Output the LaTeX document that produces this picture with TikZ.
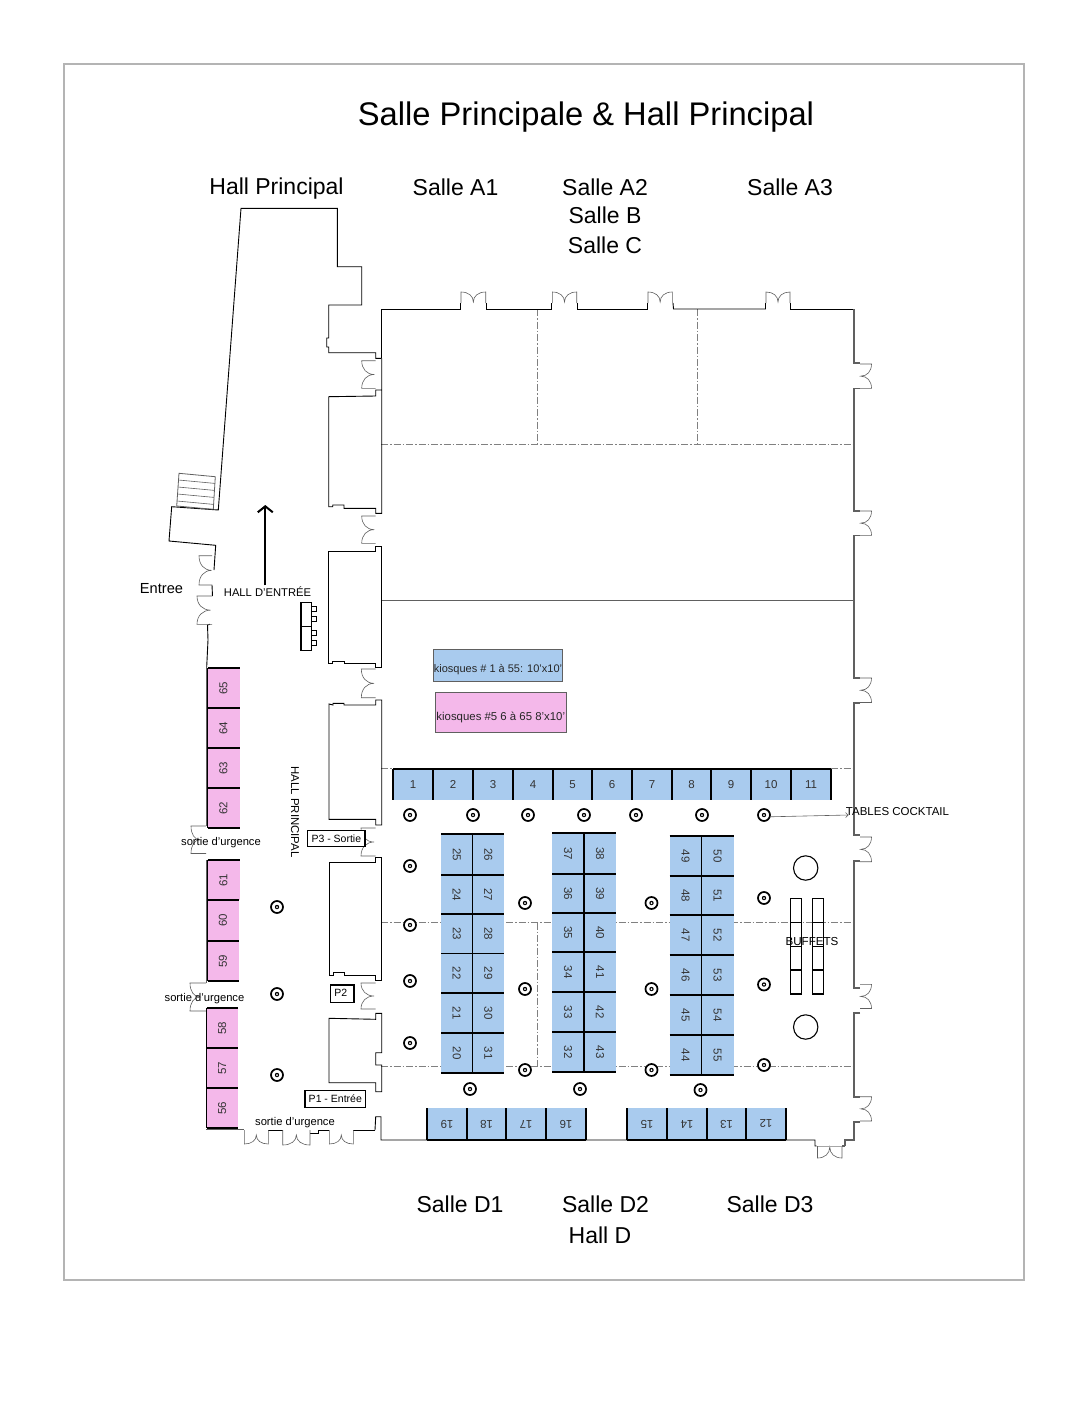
\documentclass[tikz,border=0pt]{standalone}
\usepackage{graphicx}
\usepackage{fontspec}
\setmainfont{Liberation Sans}
\usetikzlibrary{arrows.meta}
\definecolor{kblue}{HTML}{A9CBEE}
\definecolor{kpink}{HTML}{F4B8EA}
\definecolor{wallgrey}{HTML}{606060}
\definecolor{frameg}{HTML}{B4B4B4}
\definecolor{dashg}{HTML}{808080}
\newcommand{\fsz}[1]{\fontsize{#1}{#1}\selectfont}
\tikzset{
  wall/.style={draw=black,line width=0.9pt,line join=miter},
  rwall/.style={draw=wallgrey,line width=1.3pt},
  doorline/.style={draw=wallgrey,line width=0.6pt},
  partition/.style={draw=dashg,line width=0.7pt,dash pattern=on 7pt off 2pt on 1.5pt off 2pt},
  kioskbox/.style={inner sep=0pt,outer sep=0pt,font=\fsz{11.5},text=black!80},
  sep/.style={draw=black,line width=1.5pt,line cap=butt},
  salle/.style={font=\fsz{23},inner sep=0pt},
  small/.style={font=\fsz{11.2},inner sep=0pt},
  tag/.style={draw=black,line width=1.4pt,fill=white,inner sep=0pt,outer sep=0pt,font=\fsz{10.5}},
  pillar/.style={circle,draw=black,line width=1.7pt,fill=white,minimum size=12pt,inner sep=0pt},
  furn/.style={draw=black,line width=1.1pt},
}
% door with the opening along x : x1, x2, wall y, tip y, centre y
\newcommand{\doorH}[5]{%
  \pgfmathsetmacro{\xm}{(#1+#2)/2}%
  \pgfmathsetmacro{\ca}{#1+0.6*(\xm-#1)}%
  \pgfmathsetmacro{\cb}{#2-0.6*(#2-\xm)}%
  \pgfmathsetmacro{\cy}{#4+0.4*(#5-#4)}%
  \draw[doorline] (#1,#3)--(#1,#4) .. controls (\ca,#4) and (\xm,\cy) .. (\xm,#5)
    .. controls (\xm,\cy) and (\cb,#4) .. (#2,#4)--(#2,#3);}
% door with the opening along y : y1, y2, wall x, tip x, centre x
\newcommand{\doorV}[5]{%
  \pgfmathsetmacro{\ym}{(#1+#2)/2}%
  \pgfmathsetmacro{\ca}{#1+0.6*(\ym-#1)}%
  \pgfmathsetmacro{\cb}{#2-0.6*(#2-\ym)}%
  \pgfmathsetmacro{\cx}{#4+0.4*(#5-#4)}%
  \draw[doorline] (#3,#1)--(#4,#1) .. controls (#4,\ca) and (\cx,\ym) .. (#5,\ym)
    .. controls (\cx,\ym) and (#4,\cb) .. (#4,#2)--(#3,#2);}
% kiosk node: name, x1, y1, x2, y2, colour, text
\newcommand{\kiosk}[7]{%
  \pgfmathsetmacro{\kw}{#4-#2}\pgfmathsetmacro{\kh}{#5-#3}%
  \node[kioskbox,fill=#6,minimum width=\kw pt,minimum height=\kh pt] (#1) at ({(#2+#4)/2},{(#3+#5)/2}) {#7};}
\begin{document}
\begin{tikzpicture}[x=1pt,y=-1pt]
\useasboundingbox (0,0) rectangle (1088,1408);
\fill[white] (0,0) rectangle (1088,1408);
\draw[frameg,line width=2pt] (64,64) rectangle (1024,1280);

% partitions
\draw[partition] (381,444.5)--(854,444.5);
\draw[partition] (537.7,309)--(537.7,444.5);
\draw[partition] (697.3,309)--(697.3,444.5);
\draw[draw=wallgrey,line width=0.7pt] (381,600)--(854,600);
\draw[partition] (381,768.5)--(854,768.5);
\draw[partition] (381,922.5)--(854,922.5);
\draw[partition] (381,1066)--(854,1066);
\draw[partition] (537.7,922.5)--(537.7,1066);

% room walls
\draw[wall] (381.7,358.3)--(381.7,309)--(460,309)--(460,303);
\draw[wall] (486,303)--(486,309)--(551.7,309)--(551.7,303);
\draw[wall] (577,303)--(577,309)--(647.7,309)--(647.7,303);
\draw[wall] (673,303)--(673.5,309)--(765.5,309)--(765.5,303);
\draw[wall] (790.5,303)--(790.5,309)--(854,309);
\draw[rwall] (854,309)--(854,363)--(860,363);
\draw[rwall] (860,388.5)--(854,388.5)--(854,511)--(860,511);
\draw[rwall] (860,535.5)--(854,535.5)--(854,678)--(860,678);
\draw[rwall] (860,703)--(854,703)--(854,835)--(860,835);
\draw[rwall] (860,861)--(854,861)--(854,988)--(860,988);
\draw[rwall] (860,1013)--(854,1013)--(854,1097)--(860,1097);
\draw[rwall] (860,1122)--(854,1122)--(854,1140)--(845,1140)--(845,1146);
\draw[wall] (816.5,1146)--(815,1146)--(815,1140)--(381,1140)--(381,1116.7)--(375.7,1116.7)--(375,1130);

% top doors
\doorH{461}{485.7}{303}{292}{302}
\doorH{552.3}{576.7}{303}{292}{302}
\doorH{648}{672.3}{303}{292}{302}
\doorH{766}{790}{303}{292}{302}
% right doors
\doorV{364}{388.3}{860}{871.5}{860.7}
\doorV{511}{535.3}{860}{871.5}{860.7}
\doorV{678}{702.5}{860}{871.5}{860.7}
\doorV{837}{861.7}{860}{871.5}{860.7}
\doorV{984.3}{1008.5}{860}{871.5}{860.7}
\doorV{1096.7}{1121}{860}{871.5}{860.7}
% bottom right door
\doorH{817.5}{842}{1146}{1158}{1147}
\draw[draw=black!35,line width=0.6pt] (817.5,1146)--(842,1146);
\draw[rwall] (845,1146)--(842,1146);

% hall outer wall
\draw[wall] (381.7,358.3)--(375.7,358.3)--(375.7,352.7)--(328.7,352.7)--(328.7,347)--(326.7,347)--(326.7,338)--(328.7,338)--(328.7,305)--(361.7,305)--(361.7,266.7)--(337.3,266.7)--(337.3,208.3)--(241,208.3)--(218.3,510)--(171.7,506.7)--(169,541)--(215.7,545.3)--(214,570);
\draw[wall] (212,585)--(212.5,596);
\draw[wall] (210,624.3)--(207.5,625)--(208,640)--(206.7,667);
% room side blocks
\draw[wall] (381.7,390)--(375.7,390)--(375.7,396)--(328.7,396.7)--(328.7,506.7)--(332.7,506.7)--(332.7,505)--(344,505)--(344,508.3)--(375.7,508.3)--(375.7,513.3)--(381.7,513.3)--(381.7,390)--(381.7,358.3);
\draw[wall] (381.7,666.5)--(381.7,546)--(375.7,546)--(375.7,551)--(328.7,551)--(328.7,663.3)--(332,663.3)--(332,661.7)--(344,661.7)--(344,663.3)--(375.7,663.3)--(375.7,667.3)--(381.7,667.3);
\draw[wall] (381.7,700)--(375.7,700)--(375.7,705)--(344,705)--(344,703.3)--(333,703.3)--(333,705)--(329,704)--(329,819.3)--(375.7,819.3)--(375.7,825)--(381.7,825)--cycle;
\draw[wall] (381.7,857.3)--(375.7,857.3)--(375.7,862.7)--(329,862.7)--(329,975)--(333,975)--(333,972.7)--(344,972.7)--(344,975)--(375.7,975)--(375.7,980.7)--(381.7,980.7)--cycle;
\draw[wall] (375.7,1019.3)--(375.7,1013.3)--(381.7,1013.3)--(381.7,1052.7)--(375.7,1052.7)--(375.7,1065)--(381.7,1065)--(381.7,1091.7)--(375.7,1091.7)--(375.7,1082.7)--(329,1082.7)--(329,1018.3)--cycle;
% hall left / bottom wall
\draw[draw=wallgrey,line width=1pt] (206.5,667)--(206.5,826);
\draw[draw=wallgrey,line width=1pt] (206,860)--(206,983);
\draw[draw=wallgrey,line width=1pt] (206,1011)--(206,1128);
\draw[draw=wallgrey,line width=0.9pt] (206,1129)--(244.3,1129);
\draw[wall] (268.3,1130)--(282.7,1130);
\draw[wall] (310,1133)--(318,1133)--(318,1130)--(329.3,1130);
\draw[wall] (353.3,1130)--(375,1130);
% hall doors
\doorV{555.7}{585}{212}{199}{211.7}
\doorV{596}{624.3}{212}{197}{210.7}
\doorV{826}{853.5}{206}{191}{200}
\doorV{983}{1011}{206}{190}{200}
\doorV{360.7}{388.3}{375.7}{361.7}{374.3}
\doorV{516}{543.3}{375.7}{361.7}{374.3}
\doorV{669}{697.7}{375.7}{361.3}{374}
\doorV{828}{856}{375.7}{361}{374}
\doorV{983}{1009}{375.7}{361}{374}
\doorH{244.3}{268.3}{1130}{1144}{1135}
\doorH{282.7}{310}{1130}{1145}{1135}
\doorH{329.3}{353.3}{1130}{1144}{1135}

% stairs
\draw[doorline,line width=0.8pt] (179,473.3)--(215.3,476.7)--(213.3,509.3)--(176.7,506)--cycle;
\draw[doorline] (178.4,480)--(214.9,483.4) (177.9,487)--(214.5,490.4) (177.5,494)--(214,497.4) (177,501)--(213.6,504.4);

% kiosks, long rows
\foreach \n/\a/\b in {1/393/433,2/433/473,3/473/513,4/513/553,5/553/592,6/592/632,7/632/672,8/672/711,9/711/751,10/751/791,11/791/831}{
  \kiosk{k\n}{\a}{769}{\b}{800}{kblue}{\n}
}
\foreach \n in {1,...,11}{\draw[sep] (k\n.north west)--(k\n.north east) (k\n.north west)--(k\n.south west);}
\draw[sep] (k11.north east)--(k11.south east);
\foreach \n/\a/\b in {19/427/467,18/467/506,17/506/546,16/546/586,15/627/667,14/667/707,13/707/746,12/746/786}{
  \kiosk{k\n}{\a}{1108}{\b}{1140}{kblue}{\rotatebox{180}{\n}}
}
\foreach \n in {12,...,19}{\draw[sep] (k\n.south west)--(k\n.south east) (k\n.north east)--(k\n.south east) (k\n.north west)--(k\n.south west);}
% kiosks, double columns
\foreach \n/\m/\a/\b in {25/26/834/875,24/27/875/914,23/28/914/953.5,22/29/953.5/993,21/30/993/1033,20/31/1033/1073}{
  \kiosk{k\n}{441}{\a}{472.5}{\b}{kblue}{\rotatebox{-90}{\n}}
  \kiosk{k\m}{472.5}{\a}{504}{\b}{kblue}{\rotatebox{-90}{\m}}
  \draw[sep] (k\n.north west)--(k\m.north east) (k\n.north east)--(k\n.south east);
}
\draw[sep] (k20.south west)--(k31.south east);
\foreach \n/\m/\a/\b in {37/38/833/874,36/39/874/913,35/40/913/952,34/41/952/992,33/42/992/1032,32/43/1032/1072}{
  \kiosk{k\n}{552}{\a}{584}{\b}{kblue}{\rotatebox{-90}{\n}}
  \kiosk{k\m}{584}{\a}{616}{\b}{kblue}{\rotatebox{-90}{\m}}
  \draw[sep] (k\n.north west)--(k\m.north east) (k\n.north east)--(k\n.south east);
}
\draw[sep] (k32.south west)--(k43.south east);
\foreach \n/\m/\a/\b in {49/50/836/876,48/51/876/915,47/52/915/955,46/53/955/995,45/54/995/1035,44/55/1035/1075}{
  \kiosk{k\n}{669.5}{\a}{701.5}{\b}{kblue}{\rotatebox{-90}{\n}}
  \kiosk{k\m}{701.5}{\a}{733.5}{\b}{kblue}{\rotatebox{-90}{\m}}
  \draw[sep] (k\n.north west)--(k\m.north east) (k\n.north east)--(k\n.south east);
}
\draw[sep] (k44.south west)--(k55.south east);
% pink kiosks
\foreach \n/\xa/\xb/\a/\b in {65/207.5/239.5/668/708,64/207.5/239.5/708/748,63/207.5/239.5/748/788,62/207.5/239.5/788/828,61/207.5/239.5/860/900,60/207.5/238.5/900/941,59/207.5/238.5/941/981,58/206.5/238/1008/1048,57/206.5/238/1048/1088,56/206.5/238/1088/1128}{
  \kiosk{k\n}{\xa}{\a}{\xb}{\b}{kpink}{\rotatebox{90}{\n}}
  \draw[sep] (k\n.north west)--(k\n.north east) (k\n.north west)--(k\n.south west);
}
\draw[sep] (k62.south west)--(k62.south east);
\draw[sep] (k59.south west)--(k59.south east);
\draw[sep] (k56.south west)--(k56.south east);

% pillars
\foreach \i/\x/\y in {1/410/815,2/473/815,3/528/815,4/584/815,5/636/815,6/702/815,7/764/815,
  8/410/866,9/410/925,10/410/981,11/410/1043,
  12/525/903,13/525/989,14/525/1070,15/470/1089,16/580/1089,
  17/651.5/903,18/651.5/989,19/651.5/1070,20/700.5/1090,
  21/764/898,22/764/984.5,23/764/1065,
  24/277/907,25/277/994,26/277/1075}{
  \node[pillar] (p\i) at (\x,\y) {};
  \fill (\x,\y) circle (2.2pt);
  \fill[white] (\x,\y) circle (1pt);
}

% buffet
\draw[furn] (805.7,868) circle (12.2pt);
\draw[furn] (805.7,1027) circle (12.2pt);
\draw[furn] (790.7,898.7) rectangle (801.7,994) (790.7,922.7)--(801.7,922.7) (790.7,946.7)--(801.7,946.7) (790.7,970)--(801.7,970);
\draw[furn] (812.7,898.7) rectangle (823.7,994) (812.7,922.7)--(823.7,922.7) (812.7,946.7)--(823.7,946.7) (812.7,970)--(823.7,970);
% hall table
\draw[furn,line width=1.4pt] (301,602.7) rectangle (311.7,650.7) (301,626.7)--(311.7,626.7);
\draw[furn,line width=0.9pt] (311.7,606.7) rectangle (316,611) (311.7,616.7) rectangle (316,621) (311.7,630) rectangle (316,635) (311.7,640) rectangle (316,645);

% tags
\node[tag,minimum width=60.7pt,minimum height=16.6pt,text depth=0pt] (p1tag) at (335.3,1099) {P1 - Entrée};
\node[tag,minimum width=57.3pt,minimum height=16pt] (p3tag) at (336.3,838.7) {P3 - Sortie};
\node[tag,minimum width=23.7pt,minimum height=17.3pt] (p2tag) at (342.2,993.6) {\raisebox{1.5pt}{\hspace*{-3pt}P2}};

% legend
\node[kioskbox,fill=kblue,draw=wallgrey,line width=0.8pt,text=black!85,font=\fsz{11},minimum width=129.4pt,minimum height=32pt] (leg1) at (498,665.3) {\raisebox{-6.7pt}[0pt][0pt]{kiosques \# 1 à 55: 10'x10'}};
\node[kioskbox,fill=kpink,draw=wallgrey,line width=0.8pt,text=black!85,font=\fsz{11.4},minimum width=130.3pt,minimum height=39.7pt] (leg2) at (500.8,712.2) {\raisebox{-8pt}[0pt][0pt]{kiosques \#5 6 à 65 8'x10'}};

% labels
\node[font=\fsz{32.7},inner sep=0pt] (title) at (586,117.5) {Salle Principale \& Hall Principal};
\node[salle] (hp) at (276.5,189) {Hall Principal};
\node[salle] (a1) at (455.5,187) {Salle A1};
\node[salle] (a2) at (605,187) {Salle A2};
\node[salle] (b) at (605,215) {Salle B};
\node[salle] (c) at (605,245) {Salle C};
\node[salle] (a3) at (790,187) {Salle A3};
\node[salle] (d1) at (460,1204) {Salle D1};
\node[salle] (d2) at (605.5,1204) {Salle D2};
\node[salle] (d3) at (770,1204) {Salle D3};
\node[salle] (hd) at (600,1235) {Hall D};
\node[inner sep=0pt,font=\fsz{14.6}] (entree) at (161.5,589) {Entree};
\node[inner sep=0pt,font=\fsz{11.2}] (he) at (267.5,592) {HALL D'ENTRÉE};
\node[small,rotate=-90,font=\fsz{11.4}] (hpv) at (295,812) {HALL PRINCIPAL};
\node[small] (s1) at (221,843) {sortie d'urgence};
\node[small] (s2) at (204.5,999) {sortie d'urgence};
\node[small] (s3) at (295,1123) {sortie d'urgence};
\node[small,font=\fsz{11.5}] (tc) at (897.5,811.5) {TABLES COCKTAIL};
\node[small,font=\fsz{11.6}] (bf) at (812,941) {BUFFETS};

% connectors
\coordinate (arrowtip) at (265.3,505);
\coordinate (coktip) at (848.5,815);
\draw[line width=2pt,shorten <=1.5pt,-{Straight Barb[length=6pt,width=15pt]}] (he.north -| arrowtip) -- (arrowtip);
\draw[draw=wallgrey,line width=0.6pt,-{Straight Barb[length=2.5pt,width=5pt]}] (p7.-15) -- (coktip);
\end{tikzpicture}
\end{document}
